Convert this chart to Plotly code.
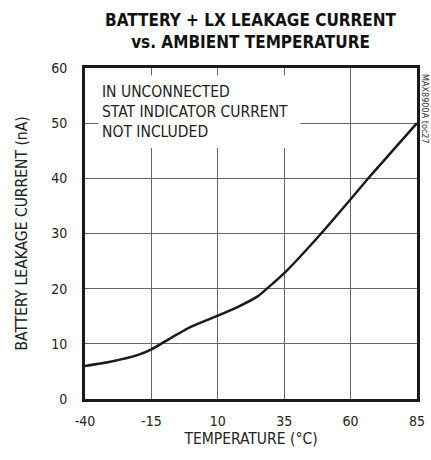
import plotly.graph_objects as go

temperature = [-40, -30, -20, -15, -10, 0, 10, 18, 25, 28.5, 35, 48, 60, 67, 76, 85]
leakage_na = [6.0, 6.8, 8.0, 9.0, 10.4, 13.1, 15.1, 16.8, 18.6, 20.0, 22.8, 29.5, 36.2, 40.2, 45.1, 50.0]

x_ticks = [-40, -15, 10, 35, 60, 85]
y_ticks = [0, 10, 20, 30, 40, 50, 60]

title_lines = ["BATTERY + LX LEAKAGE CURRENT", "vs. AMBIENT TEMPERATURE"]
note_lines = ["IN UNCONNECTED", "STAT INDICATOR CURRENT", "NOT INCLUDED"]
x_title = "TEMPERATURE (°C)"
y_title = "BATTERY LEAKAGE CURRENT (nA)"
side_label = "MAX8900A toc27"

FONT = "DejaVu Sans Condensed, Roboto, sans-serif"

fig = go.Figure()
fig.add_trace(go.Scatter(
    x=temperature, y=leakage_na, mode="lines",
    line=dict(color="#1a1a1a", width=2.5, shape="spline", smoothing=0.6),
    hoverinfo="skip", showlegend=False,
))

fig.update_layout(
    width=431, height=460,
    margin=dict(l=85, r=14, t=68, b=61, autoexpand=False),
    paper_bgcolor="white", plot_bgcolor="white",
    font=dict(family=FONT, size=16, color="#222"),
    showlegend=False,
)
fig.update_xaxes(
    range=[-40, 85], tickvals=x_ticks, ticktext=[str(v) for v in x_ticks],
    showgrid=True, gridcolor="#666666", gridwidth=1,
    showline=True, linecolor="#1a1a1a", linewidth=3, mirror=True,
    ticks="", ticklabelstandoff=7, zeroline=False, automargin=False,
    title=dict(text=x_title, standoff=6, font=dict(size=15.5)),
    tickfont=dict(size=14),
)
fig.update_yaxes(
    range=[0, 60], tickvals=y_ticks,
    showgrid=True, gridcolor="#666666", gridwidth=1,
    showline=True, linecolor="#1a1a1a", linewidth=3, mirror=True,
    ticks="", ticklabelstandoff=12, zeroline=False, automargin=False,
    tickfont=dict(size=14),
)

# white box behind note text
fig.add_shape(type="rect", xref="x", yref="y", x0=-35.1, x1=41.1, y0=45.5, y1=58.7,
              fillcolor="white", line=dict(width=0), layer="between")

fig.add_annotation(
    xref="x", yref="y", x=-34.2, y=52.0, xanchor="left", yanchor="middle",
    text="<br>".join(note_lines), showarrow=False, align="left",
    font=dict(size=15.5, color="#222", family=FONT),
)

fig.add_annotation(
    xref="paper", yref="paper", x=0.5, y=1, yshift=37, xanchor="center", yanchor="middle",
    text="<b>" + "<br>".join(title_lines) + "</b>", showarrow=False,
    font=dict(size=17, color="#111", family=FONT),
)

fig.add_annotation(
    xref="paper", yref="paper", x=0, y=0.5, xshift=-64, xanchor="center", yanchor="middle",
    text=y_title, textangle=-90, showarrow=False,
    font=dict(size=15.5, color="#222", family=FONT),
)

fig.add_annotation(
    xref="paper", yref="paper", x=1, y=1, xshift=8, yshift=-4, xanchor="center", yanchor="top",
    text=side_label, textangle=90, showarrow=False,
    font=dict(size=9, color="#333", family=FONT),
)

fig.write_html("out.html", config={"displayModeBar": False},
               post_script="document.body.style.margin='0';")
